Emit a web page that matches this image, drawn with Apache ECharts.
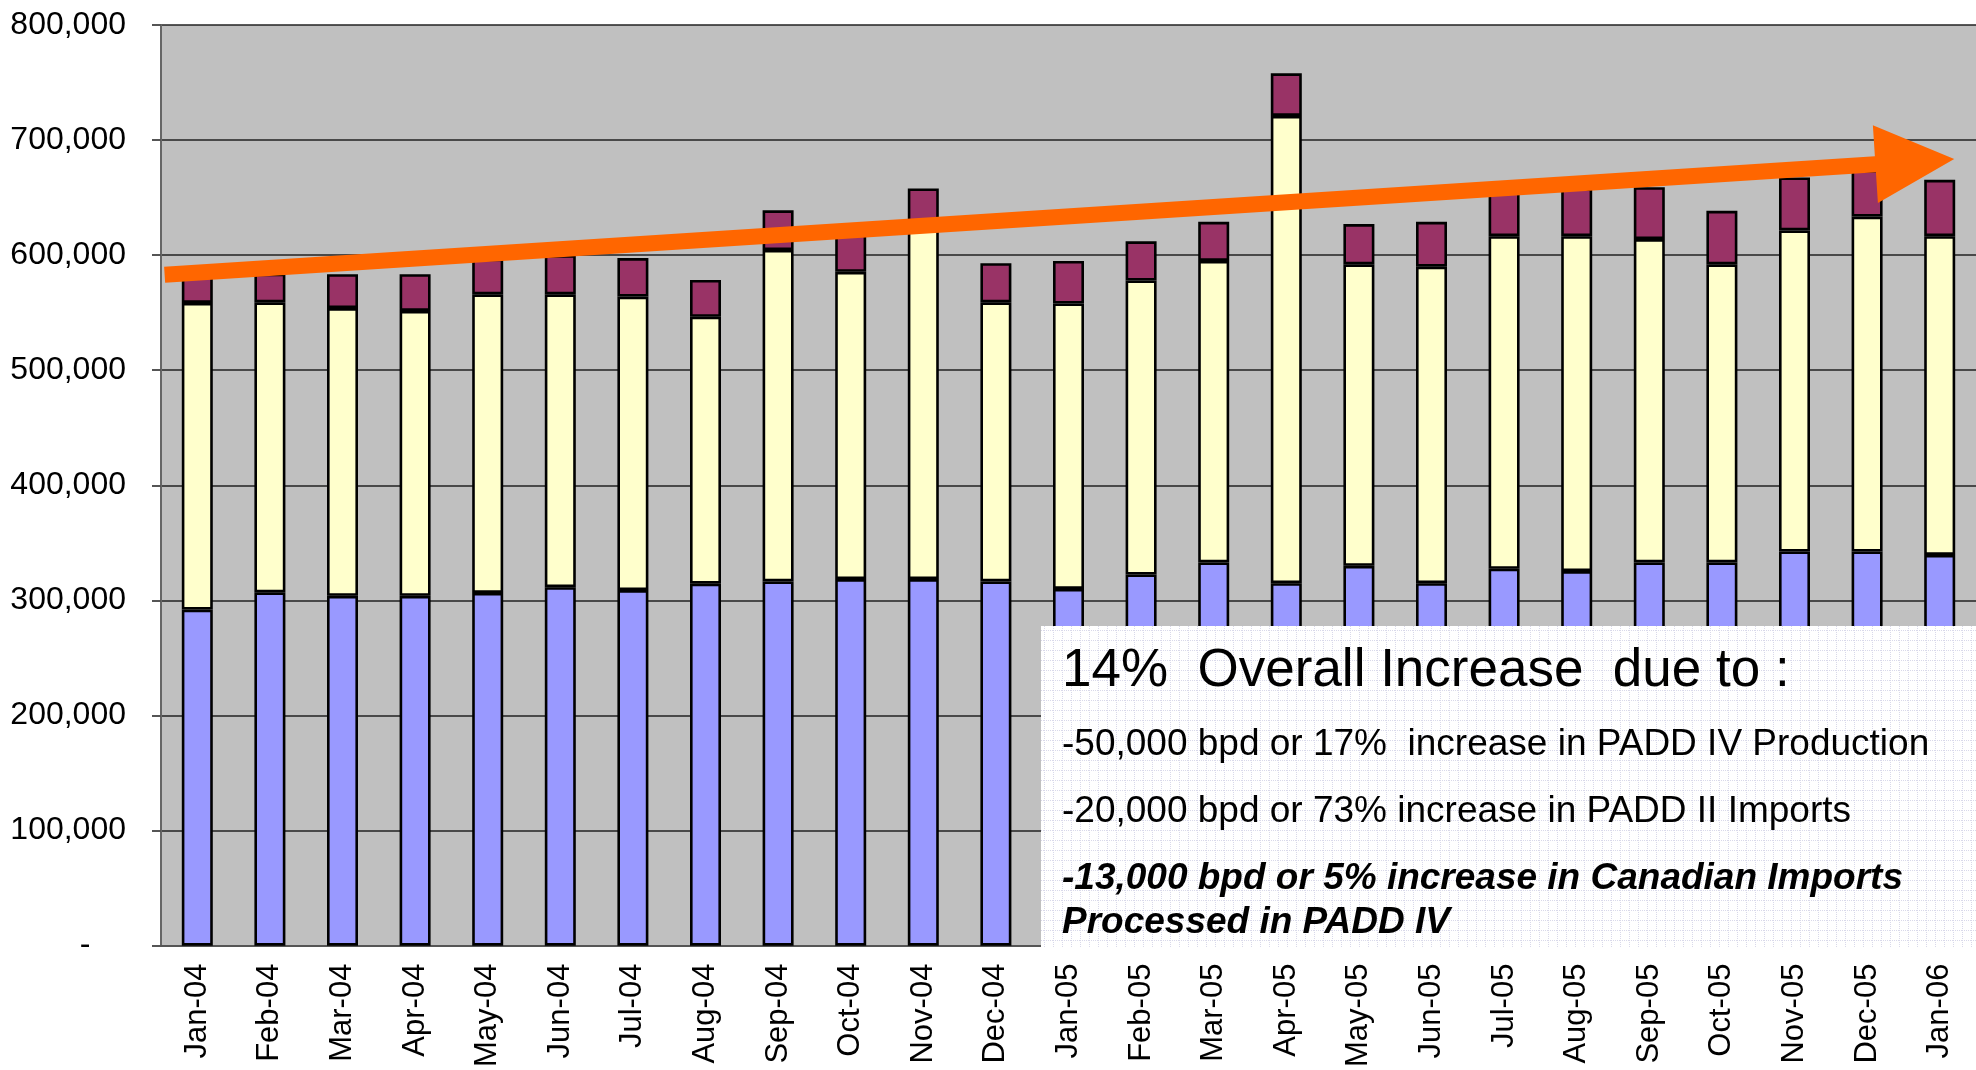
<!DOCTYPE html>
<html>
<head>
<meta charset="utf-8">
<script src="https://cdn.jsdelivr.net/npm/echarts@6/dist/echarts.min.js"></script>
<style>
  html, body { margin: 0; padding: 0; background: #fff; }
  #chart { width: 1976px; height: 1070px; }
</style>
</head>
<body>
<div id="chart"></div>
<script>
// months on the x axis
var months = ["Jan-04", "Feb-04", "Mar-04", "Apr-04", "May-04", "Jun-04", "Jul-04", "Aug-04",
  "Sep-04", "Oct-04", "Nov-04", "Dec-04", "Jan-05", "Feb-05", "Mar-05", "Apr-05", "May-05",
  "Jun-05", "Jul-05", "Aug-05", "Sep-05", "Oct-05", "Nov-05", "Dec-05", "Jan-06"];

// bpd per stacked segment (bottom to top)
var padd4Production = [292000, 307000, 304000, 304000, 306500, 311500, 309000, 314500, 316500,
  318500, 318500, 316500, 310000, 322500, 333000, 315000, 330000, 315000, 327500, 325500,
  333000, 333000, 342500, 342500, 339500];
var canadianImports = [266500, 252000, 250000, 247500, 259500, 254500, 255000, 232000, 288000,
  267000, 303500, 242500, 248000, 255500, 262000, 406000, 262000, 275000, 289000, 291000,
  281000, 259000, 279000, 291000, 277000];
var padd2Imports = [23500, 25000, 29500, 32000, 31000, 34000, 33500, 32000, 34500, 32500, 36000,
  34000, 37000, 34000, 34000, 37000, 35000, 39000, 38500, 41500, 45000, 46500, 46000, 40500,
  49000];

var yTicks = [0, 100000, 200000, 300000, 400000, 500000, 600000, 700000, 800000];

// trend arrow, in category index / value units
var arrowStart = [-0.45, 583000];
var arrowEnd = [24.2, 683500];

var noteLines = [
  "14%  Overall Increase  due to :",
  "-50,000 bpd or 17%  increase in PADD IV Production",
  "-20,000 bpd or 73% increase in PADD II Imports",
  "-13,000 bpd or 5% increase in Canadian Imports",
  "Processed in PADD IV"
];

var chart = echarts.init(document.getElementById("chart"));
var FONT = "'Liberation Sans', Arial, Helvetica, sans-serif";

function barSeries(name, data, color) {
  return {
    name: name,
    type: "bar",
    stack: "total",
    data: data,
    barWidth: 31,
    itemStyle: { color: color, borderColor: "#000", borderWidth: 2.6 }
  };
}

chart.setOption({
  animation: false,
  backgroundColor: "#fff",
  grid: {
    left: 161,
    top: 25,
    width: 1820,
    bottom: 122,
    show: true,
    backgroundColor: "#C0C0C0",
    borderWidth: 0
  },
  xAxis: {
    type: "category",
    data: months,
    axisLine: { lineStyle: { color: "#555", width: 2 } },
    axisTick: { length: 9, lineStyle: { color: "#555", width: 2 } },
    axisLabel: {
      interval: 0,
      rotate: 90,
      margin: 18,
      fontSize: 31,
      fontFamily: FONT,
      color: "#000"
    }
  },
  yAxis: {
    type: "value",
    min: yTicks[0],
    max: yTicks[yTicks.length - 1],
    interval: yTicks[1] - yTicks[0],
    axisLine: { show: true, lineStyle: { color: "#666", width: 2 } },
    axisTick: { show: true, length: 9, lineStyle: { color: "#555", width: 2 } },
    splitLine: { lineStyle: { color: "#222", width: 1.5 } },
    axisLabel: {
      margin: 35,
      fontSize: 32,
      fontFamily: FONT,
      color: "#000",
      formatter: function (v) {
        return v === 0 ? "-    " : v.toLocaleString("en-US");
      }
    }
  },
  series: [
    barSeries("PADD IV Production", padd4Production, "#9999FF"),
    barSeries("Canadian Imports", canadianImports, "#FFFFCC"),
    barSeries("PADD II Imports", padd2Imports, "#993366")
  ]
});

function makePattern() {
  var c = document.createElement("canvas");
  c.width = 9;
  c.height = 10;
  var ctx = c.getContext("2d");
  ctx.fillStyle = "#ffffff";
  ctx.fillRect(0, 0, 9, 10);
  ctx.fillStyle = "#d9d9ea";
  for (var y = 0; y < 10; y += 2) ctx.fillRect(0, y, 1, 1);
  for (var x = 0; x < 9; x += 2) ctx.fillRect(x, 0, 1, 1);
  return c;
}

function drawOverlay() {
  var x0 = chart.convertToPixel({ xAxisIndex: 0 }, months[0]);
  var x1 = chart.convertToPixel({ xAxisIndex: 0 }, months[1]);
  var step = x1 - x0;
  function px(p) {
    return [x0 + p[0] * step, chart.convertToPixel({ yAxisIndex: 0 }, p[1])];
  }
  var s = px(arrowStart), t = px(arrowEnd);
  var dx = t[0] - s[0], dy = t[1] - s[1];
  var len = Math.sqrt(dx * dx + dy * dy);
  var ux = dx / len, uy = dy / len;
  var nx = -uy, ny = ux;
  var hw = 8, hh = 39, headLen = 79;
  var b = [t[0] - ux * headLen, t[1] - uy * headLen];
  var pts = [
    [s[0] + nx * hw, s[1] + ny * hw],
    [b[0] + nx * hw, b[1] + ny * hw],
    [b[0] + nx * hh, b[1] + ny * hh],
    t,
    [b[0] - nx * hh, b[1] - ny * hh],
    [b[0] - nx * hw, b[1] - ny * hw],
    [s[0] - nx * hw, s[1] - ny * hw]
  ];

  var boxX = 1041, boxY = 626;
  var axisY = chart.convertToPixel({ yAxisIndex: 0 }, 0);
  var textX = 1062;

  chart.setOption({
    graphic: [
      {
        type: "polygon",
        z: 100,
        shape: { points: pts },
        style: { fill: "#FF6600" }
      },
      {
        type: "rect",
        z: 101,
        shape: { x: boxX, y: boxY, width: 1976 - boxX, height: axisY - boxY + 1.5 },
        style: { fill: { image: makePattern(), repeat: "repeat" } }
      },
      {
        type: "text", z: 102, x: textX, y: 671,
        style: { text: noteLines[0], font: "53px " + FONT, fill: "#000", verticalAlign: "middle" }
      },
      {
        type: "text", z: 102, x: textX, y: 745,
        style: { text: noteLines[1], font: "37px " + FONT, fill: "#000", verticalAlign: "middle" }
      },
      {
        type: "text", z: 102, x: textX, y: 812,
        style: { text: noteLines[2], font: "37px " + FONT, fill: "#000", verticalAlign: "middle" }
      },
      {
        type: "text", z: 102, x: textX, y: 879,
        style: { text: noteLines[3], font: "italic bold 37px " + FONT, fill: "#000", verticalAlign: "middle" }
      },
      {
        type: "text", z: 102, x: textX, y: 923,
        style: { text: noteLines[4], font: "italic bold 37px " + FONT, fill: "#000", verticalAlign: "middle" }
      }
    ]
  });
}

drawOverlay();
window.addEventListener("resize", function () {
  chart.resize();
  drawOverlay();
});
</script>
</body>
</html>
